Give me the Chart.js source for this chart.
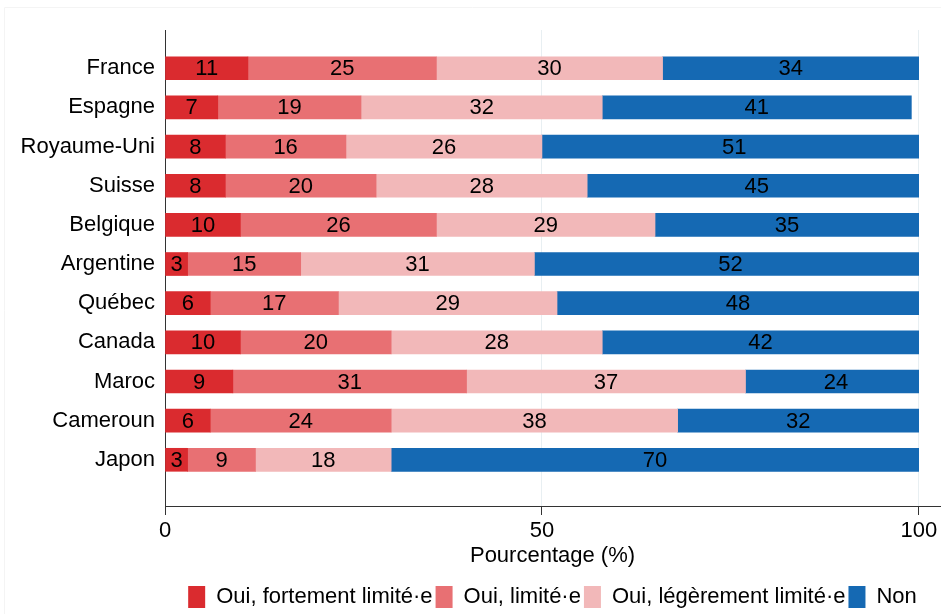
<!DOCTYPE html>
<html lang="fr">
<head>
<meta charset="utf-8">
<title>Limitation par pays</title>
<script src="https://cdn.jsdelivr.net/npm/chart.js@4.4.1/dist/chart.umd.min.js"></script>
<style>
  html, body { margin: 0; padding: 0; background: #ffffff; }
  #wrap { width: 941px; height: 614px; position: relative; }
</style>
</head>
<body>
<div id="wrap"><canvas id="chart" width="941" height="614"></canvas></div>
<script>
// Pays, de haut en bas
const categories = ['France', 'Espagne', 'Royaume-Uni', 'Suisse', 'Belgique', 'Argentine',
                    'Québec', 'Canada', 'Maroc', 'Cameroun', 'Japon'];

// Réponses en pourcentage, par catégorie de réponse
const fortementLimite = [11, 7, 8, 8, 10, 3, 6, 10, 9, 6, 3];
const limite          = [25, 19, 16, 20, 26, 15, 17, 20, 31, 24, 9];
const legerementLimite = [30, 32, 26, 28, 29, 31, 29, 28, 37, 38, 18];
const non             = [34, 41, 51, 45, 35, 52, 48, 42, 24, 32, 70];

const seriesNames = ['Oui, fortement limité·e', 'Oui, limité·e', 'Oui, légèrement limité·e', 'Non'];
const xTickValues = [0, 50, 100];

const FONT = '"Liberation Sans", Arial, Helvetica, sans-serif';
const FONT_SIZE = 22;
const colors = ['#DA2B2F', '#E87073', '#F2B8B9', '#1569B3'];

const seriesValues = [fortementLimite, limite, legerementLimite, non];
const datasets = seriesValues.map((vals, s) => ({
  label: seriesNames[s],
  data: vals.map((v, i) => ({ x: v, y: i })),
  backgroundColor: colors[s],
  borderWidth: 0,
  barThickness: 23,
  clip: { left: 0, top: 0, bottom: 0, right: -21 }
}));

// Valeurs écrites au centre de chaque segment
const segmentLabels = {
  id: 'segmentLabels',
  afterDatasetsDraw(chart) {
    const ctx = chart.ctx;
    ctx.save();
    ctx.font = FONT_SIZE + 'px ' + FONT;
    ctx.fillStyle = '#000000';
    ctx.textAlign = 'center';
    ctx.textBaseline = 'middle';
    chart.data.datasets.forEach((ds, di) => {
      const meta = chart.getDatasetMeta(di);
      meta.data.forEach((el, i) => {
        const cx = (el.x + el.base) / 2;
        ctx.fillText(String(seriesValues[di][i]), cx, el.y + 1);
      });
    });
    ctx.restore();
  }
};

// Cadre très pâle autour du graphique
const outerFrame = {
  id: 'outerFrame',
  beforeDraw(chart) {
    const ctx = chart.ctx;
    ctx.save();
    ctx.strokeStyle = '#f4f4f4';
    ctx.lineWidth = 1;
    ctx.beginPath();
    ctx.moveTo(4.5, 614);
    ctx.lineTo(4.5, 7.5);
    ctx.lineTo(941, 7.5);
    ctx.stroke();
    ctx.restore();
  }
};

// Placement vertical de la légende
const legendPlacement = {
  id: 'legendPlacement',
  afterLayout(chart) {
    const lg = chart.legend;
    if (!lg) return;
    const dy = 583 - lg.top;
    lg.top += dy;
    lg.bottom += dy;
  }
};

new Chart(document.getElementById('chart'), {
  type: 'bar',
  data: { datasets },
  plugins: [outerFrame, segmentLabels, legendPlacement],
  options: {
    indexAxis: 'y',
    responsive: false,
    animation: false,
    events: [],
    layout: { padding: { top: 30, right: 1, bottom: 0, left: 0 } },
    scales: {
      x: {
        type: 'linear',
        stacked: true,
        min: 0,
        max: 102.8,
        afterBuildTicks: s => { s.ticks = xTickValues.map(v => ({ value: v })); },
        afterFit: s => { s.height = 73; },
        border: { display: true, color: '#333333', width: 1 },
        grid: {
          display: true,
          color: '#E8EFF2',
          lineWidth: 1,
          drawTicks: true,
          tickLength: 9,
          tickColor: '#333333',
          tickWidth: 1
        },
        ticks: {
          color: '#000000',
          font: { family: FONT, size: FONT_SIZE },
          padding: 3,
          maxRotation: 0
        },
        title: {
          display: true,
          text: 'Pourcentage (%)',
          color: '#000000',
          font: { family: FONT, size: FONT_SIZE },
          padding: { top: 0, bottom: 10 }
        }
      },
      y: {
        type: 'linear',
        stacked: true,
        reverse: true,
        offset: false,
        min: -0.977,
        max: 11.18,
        afterBuildTicks: s => { s.ticks = categories.map((c, i) => ({ value: i })); },
        afterFit: s => { s.width = 165; },
        border: { display: true, color: '#333333', width: 1 },
        grid: { display: false, drawTicks: false, offset: false },
        ticks: {
          color: '#000000',
          font: { family: FONT, size: FONT_SIZE },
          padding: 10,
          autoSkip: false,
          callback: v => categories[v]
        }
      }
    },
    plugins: {
      legend: {
        display: true,
        position: 'bottom',
        fullSize: false,
        labels: {
          color: '#000000',
          font: { family: FONT, size: FONT_SIZE },
          boxWidth: 17,
          boxHeight: 22,
          padding: 3
        }
      },
      tooltip: { enabled: false }
    }
  }
});
</script>
</body>
</html>
